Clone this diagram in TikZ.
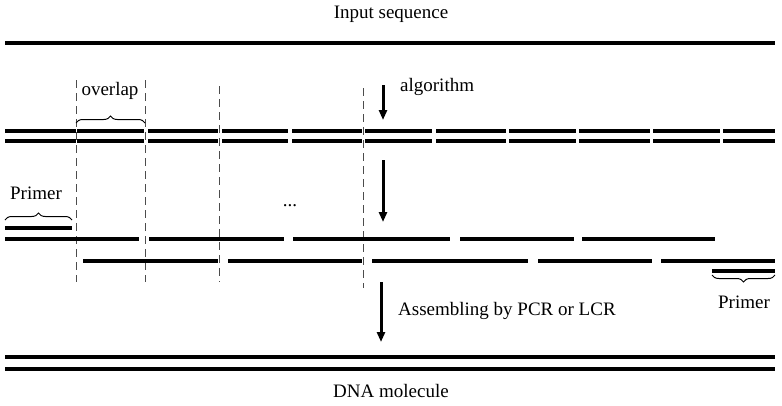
\documentclass[tikz,border=0pt]{standalone}
\usepackage{fontspec}
\setmainfont{Liberation Serif}
\usetikzlibrary{decorations.pathreplacing,arrows.meta}
\begin{document}
\begin{tikzpicture}[x=1pt,y=-1pt,
  strand/.style={line width=3.3pt},
  guide/.style={line width=1pt,gray!60!black,dash pattern=on 8pt off 5pt},
  flow/.style={line width=3pt,-{Triangle[length=10pt,width=8pt]}},
  brc/.style={decorate,decoration={brace,amplitude=7pt},line width=1pt},
  lbl/.style={font=\fontsize{19}{21}\selectfont,inner sep=0pt}]
\useasboundingbox (0,0) rectangle (782,405);
\node[lbl] (in) at (391,14) {Input sequence};
\draw[strand] (5,43) -- (775,43);
\coordinate (a1s) at (383,85); \coordinate (a1e) at (383,120);
\draw[flow] (a1s) -- (a1e);
\node[lbl,anchor=west] (alg) at (400,87) {algorithm};
\foreach \x/\a/\b in {76/80/282,145/80/282,219/86/282,363/88/288}
  \draw[guide] (\x,\a) -- (\x,\b);
\node[lbl] (ov) at (110,91) {overlap};
\draw[brc] (76,123) -- (145,123);
\foreach \y in {131,141}{
  \foreach \p/\q in {5/76,77/144,148/218,222/288,292/362,365/432,436/506,509/576,579/650,653/720,723/775}
    \draw[strand] (\p,\y) -- (\q,\y);}
\coordinate (a2s) at (383,160); \coordinate (a2e) at (383,222);
\draw[flow] (a2s) -- (a2e);
\node[lbl] (dots) at (290,206) {...};
\node[lbl] (pr1) at (36,193) {Primer};
\draw[brc] (5,220) -- (72,220);
\draw[strand] (5,228) -- (72,228);
\foreach \p/\q in {5/139,149/284,293/450,460/574,582/715}
  \draw[strand] (\p,239) -- (\q,239);
\foreach \p/\q in {83/218,228/362,372/528,538/652,661/775}
  \draw[strand] (\p,261) -- (\q,261);
\draw[strand] (712,271) -- (775,271);
\draw[brc] (775,275) -- (712,275);
\node[lbl] (pr2) at (744,302) {Primer};
\coordinate (a3s) at (381,282); \coordinate (a3e) at (381,342);
\draw[flow] (a3s) -- (a3e);
\node[lbl,anchor=west] (asm) at (398,311) {Assembling by PCR or LCR};
\draw[strand] (5,357) -- (775,357);
\draw[strand] (5,369) -- (775,369);
\node[lbl] (dna) at (391,391) {DNA molecule};
\end{tikzpicture}
\end{document}
